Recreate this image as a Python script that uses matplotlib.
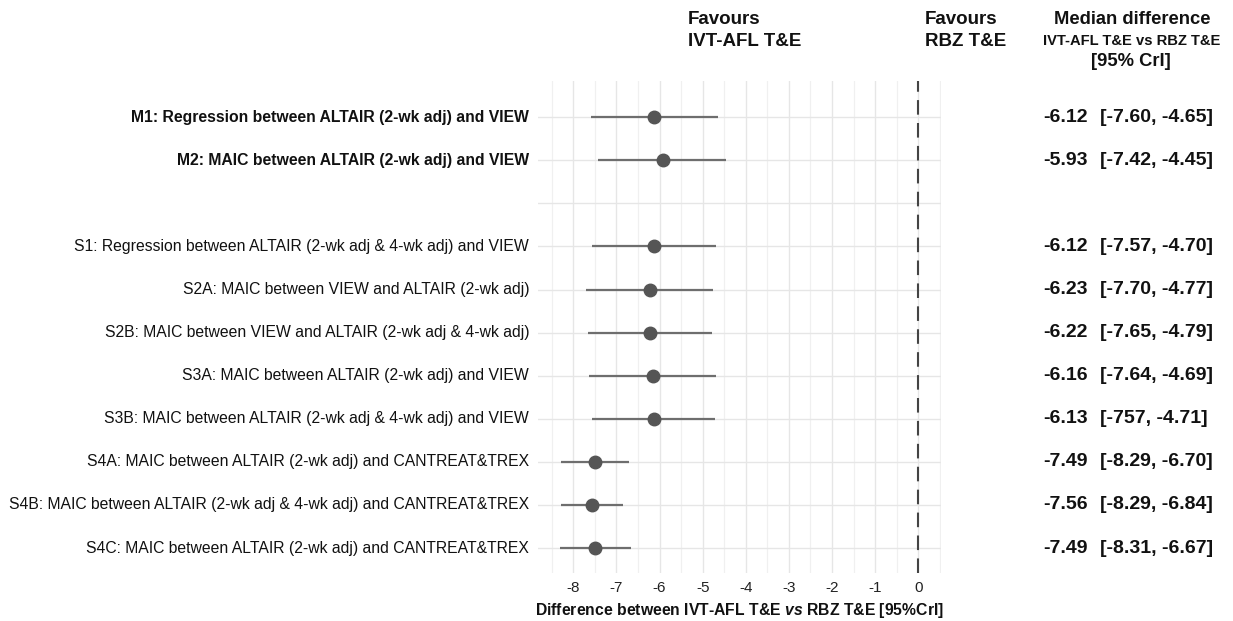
import matplotlib
matplotlib.use("Agg")
import matplotlib.pyplot as plt
from matplotlib.transforms import blended_transform_factory
import numpy as np

plt.rcParams['font.family'] = ['Liberation Sans', 'DejaVu Sans']
plt.rcParams['mathtext.fontset'] = 'custom'
plt.rcParams['mathtext.it'] = 'Liberation Sans:italic:bold'
plt.rcParams['mathtext.rm'] = 'Liberation Sans:bold'

labels = [
    "M1: Regression between ALTAIR (2-wk adj) and VIEW",
    "M2: MAIC between ALTAIR (2-wk adj) and VIEW",
    "",
    "S1: Regression between ALTAIR (2-wk adj & 4-wk adj) and VIEW",
    "S2A: MAIC between VIEW and ALTAIR (2-wk adj)",
    "S2B: MAIC between VIEW and ALTAIR (2-wk adj & 4-wk adj)",
    "S3A: MAIC between ALTAIR (2-wk adj) and VIEW",
    "S3B: MAIC between ALTAIR (2-wk adj & 4-wk adj) and VIEW",
    "S4A: MAIC between ALTAIR (2-wk adj) and CANTREAT&TREX",
    "S4B: MAIC between ALTAIR (2-wk adj & 4-wk adj) and CANTREAT&TREX",
    "S4C: MAIC between ALTAIR (2-wk adj) and CANTREAT&TREX",
]
bold_rows = [True, True, False, False, False, False, False, False, False, False, False]
median = [-6.12, -5.93, np.nan, -6.12, -6.23, -6.22, -6.16, -6.13, -7.49, -7.56, -7.49]
lower = [-7.60, -7.42, np.nan, -7.57, -7.70, -7.65, -7.64, -7.57, -8.29, -8.29, -8.31]
upper = [-4.65, -4.45, np.nan, -4.70, -4.77, -4.79, -4.69, -4.71, -6.70, -6.84, -6.67]
median_text = ["-6.12", "-5.93", "", "-6.12", "-6.23", "-6.22", "-6.16", "-6.13", "-7.49", "-7.56", "-7.49"]
ci_text = ["[-7.60, -4.65]", "[-7.42, -4.45]", "", "[-7.57, -4.70]", "[-7.70, -4.77]",
           "[-7.65, -4.79]", "[-7.64, -4.69]", "[-757, -4.71]", "[-8.29, -6.70]",
           "[-8.29, -6.84]", "[-8.31, -6.67]"]
xticks = [-8, -7, -6, -5, -4, -3, -2, -1, 0]

W, H = 1233, 621
fig = plt.figure(figsize=(W / 100, H / 100), dpi=100)
ax = fig.add_axes([538 / W, 1 - 573 / H, (941 - 538) / W, (573 - 81) / H])

ypos = np.arange(len(labels))
ax.set_xlim(-8.82, 0.53)
ax.set_ylim(10.58, -0.84)

# grid
ax.set_xticks(xticks)
ax.set_xticklabels([str(t) for t in xticks], fontsize=11, color='#222222')
ax.set_xticks(np.arange(-8.5, 0.6, 1.0), minor=True)
ax.set_yticks(ypos)
ax.set_yticklabels([])
ax.grid(True, which='major', color='#e6e6e6', lw=1.0)
ax.grid(True, which='minor', axis='x', color='#f0f0f0', lw=0.9)
ax.tick_params(which='both', length=0, pad=6)
for s in ax.spines.values():
    s.set_visible(False)
ax.set_axisbelow(True)

ax.axvline(0, color='#444444', lw=1.5, ls=(0, (7, 4)))

for i in range(len(labels)):
    if np.isnan(median[i]):
        continue
    ax.plot([lower[i], upper[i]], [ypos[i], ypos[i]], color='#6e6e6e', lw=1.6,
            solid_capstyle='butt', zorder=3)
    ax.plot(median[i], ypos[i], 'o', color='#555555', ms=9, zorder=4)

tr = blended_transform_factory(ax.transAxes, ax.transData)
for i, lab in enumerate(labels):
    if not lab:
        continue
    ax.text(-0.022, ypos[i], lab, transform=tr, ha='right', va='center', fontsize=11.3,
            fontweight='bold' if bold_rows[i] else 'normal', color='#111111')
    ax.text((1043 - 538) / 403, ypos[i], median_text[i], transform=tr, ha='left', va='center',
            fontsize=14, fontweight='bold', color='#111111')
    ax.text((1100 - 538) / 403, ypos[i], ci_text[i], transform=tr, ha='left', va='center',
            fontsize=14, fontweight='bold', color='#111111')

ax.set_xlabel(r"Difference between IVT-AFL T&E $\mathit{vs}$ RBZ T&E [95%CrI]",
              fontsize=11.3, fontweight='bold', labelpad=4, color='#111111')

def ftext(x, y, s, **kw):
    fig.text(x / W, 1 - y / H, s, **kw)

ftext(688, 20, "Favours", fontsize=13.5, fontweight='bold', va='center', ha='left', color='#111111')
ftext(688, 42, "IVT-AFL T&E", fontsize=13.5, fontweight='bold', va='center', ha='left', color='#111111')
ftext(925, 20, "Favours", fontsize=13.5, fontweight='bold', va='center', ha='left', color='#111111')
ftext(925, 42, "RBZ T&E", fontsize=13.5, fontweight='bold', va='center', ha='left', color='#111111')
ftext(1132, 20, "Median difference", fontsize=13.2, fontweight='bold', va='center', ha='center', color='#111111')
ftext(1132, 41, "IVT-AFL T&E vs RBZ T&E", fontsize=10.6, fontweight='bold', va='center', ha='center',
      color='#111111')
ftext(1131, 62, "[95% CrI]", fontsize=13.2, fontweight='bold', va='center', ha='center', color='#111111')

fig.savefig("out.png", dpi=100, facecolor='white')
